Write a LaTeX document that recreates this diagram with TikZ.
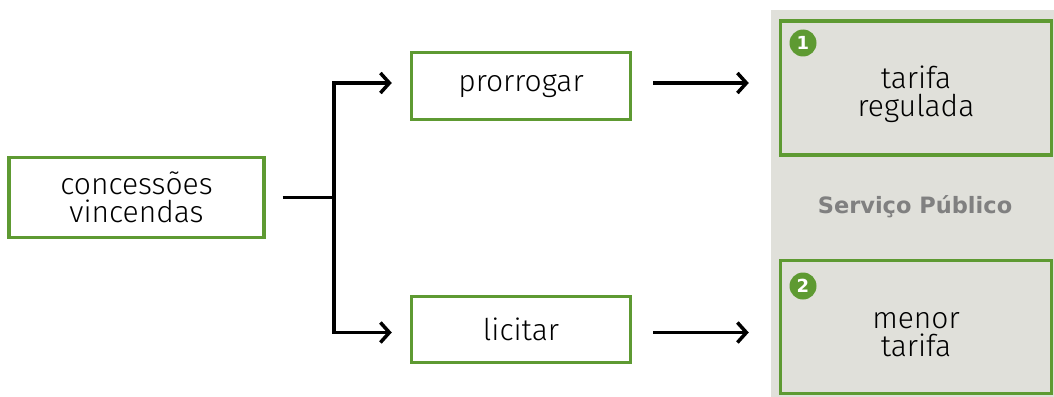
\documentclass[tikz,border=0pt]{standalone}
\usepackage{fontspec}
\setmainfont{Fira Sans}[UprightFont=* Light]
\newfontfamily\boldsans{DejaVu Sans}[UprightFont=* Bold]
\usetikzlibrary{arrows.meta}
\definecolor{leaf}{RGB}{94,154,50}
\definecolor{panel}{RGB}{224,224,218}
\definecolor{caption}{RGB}{128,128,128}
\tikzset{
  stepbox/.style={draw=leaf, line width=3.5pt, fill=white, align=center,
    font=\fontsize{30}{28}\selectfont, inner sep=0pt},
  outcome/.style={draw=leaf, line width=3.5pt, fill=panel, inner sep=0pt},
  outtext/.style={align=center, font=\fontsize{30}{28}\selectfont, inner sep=0pt},
  badge/.style={circle, fill=leaf, text=white, minimum size=27pt, inner sep=0pt,
    font=\boldsans\fontsize{18}{18}\selectfont},
  link/.style={line width=3.5pt, -{Straight Barb[length=9pt,width=20pt,line width=3.5pt]}},
}
\begin{document}
\begin{tikzpicture}[x=1pt, y=-1pt]
  \useasboundingbox (0,0) rectangle (1054,396);
  % grey band behind the two outcomes
  \fill[panel] (771,10) rectangle (1060,400);

  \node[stepbox, minimum width=255pt, minimum height=80pt] (conc) at (136.5,197.5)
    {concessões\\vincendas};
  \node[stepbox, minimum width=219pt, minimum height=67pt] (pror) at (521,86) {prorrogar};
  \node[stepbox, minimum width=219pt, minimum height=66pt] (lici) at (521,329.5) {licitar};

  \node[outcome, minimum width=271pt, minimum height=134pt] (tarreg) at (916,88) {};
  \node[outcome, minimum width=271pt, minimum height=133pt] (mentar) at (916,327) {};

  \node[outtext] (tarregtxt) at ([yshift=-6pt]tarreg.center) {tarifa\\regulada};
  \node[outtext] (mentartxt) at ([yshift=-8pt]mentar.center) {menor\\tarifa};

  \node[badge] (b1) at (803,43) {1};
  \node[badge] (b2) at (803,286) {2};

  \node[text=caption, font=\boldsans\fontsize{22.5}{24}\selectfont, inner sep=0pt]
    (svc) at (915,207) {Serviço Público};

  % branching connectors
  \draw[link, shorten <=17pt, shorten >=18pt] (conc.east) -- ++(68,0) |- ([yshift=3pt]pror.west);
  \draw[link, shorten <=17pt, shorten >=18pt] (conc.east) -- ++(68,0) |- ([yshift=-3pt]lici.west);
  \draw[link, shorten <=21pt, shorten >=30pt] ([yshift=3pt]pror.east) -- ([yshift=3pt]pror.east -| tarreg.west);
  \draw[link, shorten <=21pt, shorten >=30pt] ([yshift=-3pt]lici.east) -- ([yshift=-3pt]lici.east -| mentar.west);
\end{tikzpicture}
\end{document}
